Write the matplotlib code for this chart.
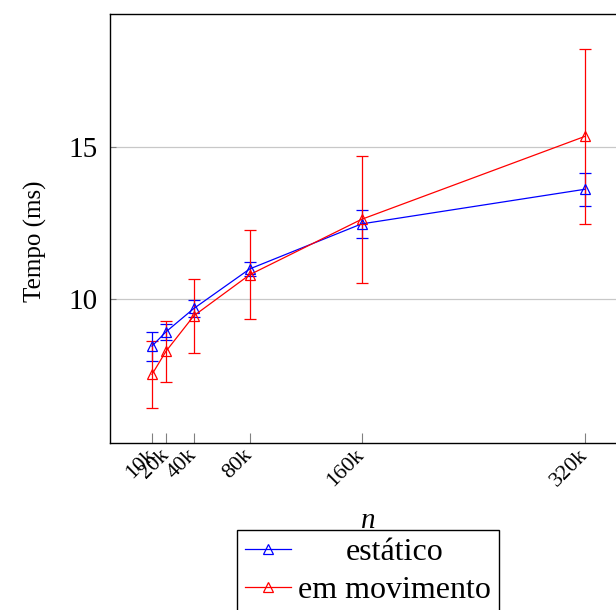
import matplotlib
matplotlib.use('Agg')
import matplotlib.pyplot as plt
from matplotlib.lines import Line2D

# n in thousands
n_vals = [10, 20, 40, 80, 160, 320]
tick_labels = ['10k', '20k', '40k', '80k', '160k', '320k']

# tempo medio (ms) e desvio
estatico = [8.45, 8.92, 9.69, 10.99, 12.47, 13.61]
estatico_err = [0.48, 0.27, 0.27, 0.22, 0.46, 0.54]
movimento = [7.52, 8.28, 9.45, 10.80, 12.62, 15.35]
movimento_err = [1.10, 1.00, 1.21, 1.46, 2.10, 2.88]

series = [
    ('estático', estatico, estatico_err, 'blue'),
    ('em movimento', movimento, movimento_err, 'red'),
]

plt.rcParams['font.family'] = ['Liberation Serif', 'DejaVu Serif']

W, H = 616, 610
fig = plt.figure(figsize=(W / 100, H / 100), dpi=100)
# axes runs past the right border like the reference crop
ax = fig.add_axes([110 / W, (H - 443) / H, (627 - 110) / W, (443 - 14) / H])

style = dict(lw=0.9, marker='^', ms=6.5, mfc='none', mew=0.9)
handles = []
for label, vals, err, color in series:
    ax.errorbar(n_vals, vals, yerr=err, color=color, capsize=4, capthick=0.9,
                elinewidth=0.9, zorder=3, **style)
    handles.append(Line2D([], [], color=color, label=label, **style))

ax.set_xlim(-20.07, 350.07)
ax.set_ylim(5.263, 19.375)

ax.set_xticks(n_vals)
ax.set_xticklabels(tick_labels, rotation=45, ha='right', va='center',
                   rotation_mode='anchor', fontsize=16)
ax.set_yticks([10, 15])
ax.tick_params(axis='x', direction='in', length=7, width=0.8, color='gray',
               pad=7, top=False)
ax.tick_params(axis='y', direction='in', length=4, width=0.8, color='gray',
               pad=9, labelsize=21, right=False)
ax.grid(axis='y', color='#c8c8c8', lw=0.9)
ax.set_axisbelow(True)
for s in ax.spines.values():
    s.set_linewidth(1.0)

ax.set_xlabel('n', fontsize=21, fontstyle='italic')
ax.xaxis.set_label_coords(0.5, -0.152)
ax.set_ylabel('Tempo (ms)', fontsize=18)
ax.yaxis.set_label_coords(-0.122, 0.47)

leg = ax.legend(handles=handles, loc='upper left',
                bbox_to_anchor=(237 / W, (H - 530) / H),
                bbox_transform=fig.transFigure, fontsize=23, frameon=True,
                fancybox=False, edgecolor='black', framealpha=1,
                borderaxespad=0, borderpad=0.25, handlelength=1.45,
                handletextpad=0.2, labelspacing=0.25)
leg.get_frame().set_linewidth(1.0)

# centre the shorter legend entry like the reference
fig.canvas.draw()
texts = leg.get_texts()
widths = [t.get_window_extent().width for t in texts]
wmax = max(widths)
for t, w in zip(texts, widths):
    t.set_x((wmax - w) / 2)

fig.savefig('out.png', dpi=100)
